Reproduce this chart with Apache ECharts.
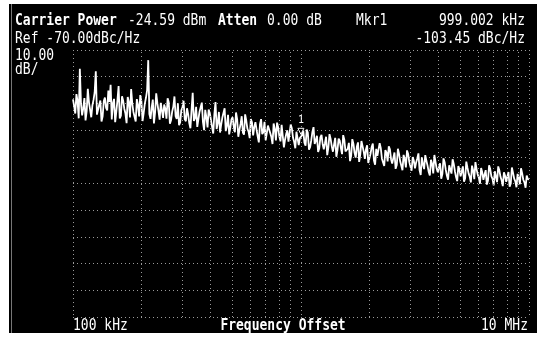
<!DOCTYPE html>
<html>
<head>
<meta charset="utf-8">
<script src="https://cdn.jsdelivr.net/npm/echarts@6/dist/echarts.min.js"></script>
<style>
  html, body { margin: 0; padding: 0; background: #fff; }
  #chart { width: 537px; height: 337px; }
</style>
</head>
<body>
<div id="chart"></div>
<script>
// sweep: log spaced offsets from 100 kHz to 10 MHz
const sweepStart = 1e5;
const sweepStop = 1e7;

// phase noise trace, dBc/Hz (sweep points 0..200)
const traceDb = [
  -88.5, -93.8, -89.2, -77.0, -94.5, -88.0, -92.9, -89.6, -95.2, -88.7,
  -78.0, -93.5, -88.9, -94.8, -87.8, -92.6, -89.4, -96.0, -88.3, -93.1,
  -83.5, -94.6, -89.0, -93.8, -87.6, -95.3, -90.1, -92.7, -88.4, -94.9,
  -89.2, -93.6, -87.9, -73.8, -95.8, -88.6, -93.4, -89.9, -96.1, -90.3,
  -90.4, -95.7, -89.6, -96.3, -91.2, -94.8, -90.0, -97.1, -91.5, -95.9,
  -91.8, -97.4, -92.5, -96.6, -91.3, -98.2, -93.0, -97.0, -92.4, -99.0,
  -93.6, -98.8, -94.1, -99.6, -93.2, -97.9, -95.0, -100.4, -94.3, -99.2,
  -95.2, -100.8, -96.0, -99.9, -94.8, -101.7, -96.5, -100.6, -95.9, -102.0,
  -97.0, -102.3, -97.8, -101.5, -96.9, -103.4, -98.6, -102.6, -97.5, -103.9,
  -99.0, -104.2, -98.5, -103.6, -100.1, -105.0, -99.4, -104.4, -100.6, -105.6,
  -103.45, -100.2, -105.8, -101.0, -106.4, -100.7, -105.2, -102.1, -106.9, -101.8,
  -107.2, -102.5, -106.6, -103.3, -108.1, -102.9, -107.5, -104.0, -109.0, -103.6,
  -108.7, -104.8, -109.6, -105.2, -110.3, -104.6, -109.1, -106.0, -110.8, -105.7,
  -110.6, -106.3, -111.4, -107.0, -110.2, -106.8, -112.1, -107.5, -111.7, -107.2,
  -112.5, -108.4, -113.1, -108.9, -112.4, -109.3, -114.0, -109.0, -113.6, -110.1,
  -114.3, -110.6, -115.0, -110.2, -114.6, -111.5, -115.6, -111.1, -116.2, -111.9,
  -115.8, -112.4, -116.5, -112.0, -117.1, -113.2, -116.3, -112.7, -117.6, -113.5,
  -117.3, -113.6, -118.0, -114.1, -117.5, -113.3, -118.4, -114.6, -117.8, -114.2,
  -118.6, -115.0, -119.0, -114.6, -118.3, -115.4, -119.5, -115.1, -118.8, -115.8,
  -119.4, -115.7, -120.0, -116.0, -119.2, -116.4, -120.3, -116.2, -119.6, -117.0, -118.5
];

// in-between sweep points (between point i and i+1)
const traceDbMid = [
  -91.0, -86.5, -95.6, -90.2, -91.8, -96.4, -84.5, -92.3, -90.8, -85.9,
  -94.2, -90.5, -96.8, -89.1, -91.7, -85.2, -83.0, -90.0, -97.0, -88.8,
  -95.6, -87.3, -92.0, -97.4, -89.5, -84.6, -93.2, -96.8, -90.6, -86.9,
  -96.6, -90.1, -85.1, -94.0, -91.6, -97.5, -86.2, -92.9, -89.8, -95.4,
  -92.0, -88.1, -97.6, -93.1, -87.4, -95.8, -98.2, -92.6, -89.0, -96.7,
  -94.0, -99.3, -86.0, -95.5, -98.8, -93.1, -89.7, -100.0, -95.1, -92.3,
  -96.2, -101.3, -89.5, -97.4, -100.9, -95.3, -91.8, -98.4, -101.6, -96.0,
  -98.6, -93.4, -102.5, -97.7, -100.9, -94.1, -99.5, -103.0, -97.1, -98.9,
  -99.8, -104.6, -95.9, -100.7, -103.8, -98.3, -101.1, -105.2, -99.6, -97.2,
  -102.4, -98.0, -106.5, -101.5, -104.3, -97.9, -102.9, -106.8, -101.3, -103.0,
  -101.9, -104.7, -99.8, -107.3, -103.8, -98.9, -104.0, -108.2, -102.7, -105.3,
  -104.9, -109.4, -101.5, -106.1, -105.4, -110.0, -103.2, -106.7, -101.9, -108.0,
  -107.0, -111.6, -103.4, -108.5, -106.1, -111.9, -104.1, -108.0, -107.2, -112.3,
  -108.9, -105.0, -113.0, -109.6, -104.9, -110.7, -113.4, -108.4, -106.1, -110.9,
  -110.4, -114.5, -107.0, -111.7, -115.0, -110.9, -107.6, -112.0, -115.2, -111.5,
  -112.1, -108.7, -116.8, -112.8, -109.4, -113.3, -117.0, -112.6, -109.3, -114.4,
  -114.0, -118.2, -110.6, -114.9, -118.6, -113.7, -110.9, -115.4, -119.1, -114.8,
  -115.5, -119.3, -111.8, -116.2, -119.6, -115.1, -112.0, -116.7, -120.1, -115.9,
  -116.6, -120.4, -113.2, -117.3, -120.7, -116.0, -113.6, -117.5, -121.0, -117.1,
  -117.4, -121.2, -114.0, -118.2, -121.4, -117.9, -114.3, -118.6, -121.6, -118.4
];

// graticule lines between the decades
const minorFreqs = [
  2e5, 3e5, 4e5, 5e5, 6e5, 7e5, 8e5, 9e5,
  2e6, 3e6, 4e6, 5e6, 6e6, 7e6, 8e6, 9e6
];

const refLevel = -70;
const dbPerDiv = 10;
const marker = { freq: 999002, db: -103.45, label: "1" };

const n = traceDb.length;
const sweepFreq = (k) => sweepStart * Math.pow(sweepStop / sweepStart, k / (n - 1));
const traceData = [];
traceDb.forEach((db, i) => {
  traceData.push([sweepFreq(i), db]);
  if (i < traceDbMid.length) traceData.push([sweepFreq(i + 0.5), traceDbMid[i]]);
});

const mono = "'DejaVu Sans Mono', monospace";
const gridColor = "#9a9a9a";
const gridType = [1, 3];

function label(text, x, y, opts) {
  return {
    type: "text",
    x: x,
    y: y,
    scaleY: 1.2,
    style: Object.assign({
      text: text,
      fill: "#fff",
      font: "13px " + mono,
      textVerticalAlign: "middle"
    }, opts || {})
  };
}

const chart = echarts.init(document.getElementById("chart"));
chart.setOption({
  backgroundColor: "#fff",
  animation: false,
  grid: { left: 73, top: 50, width: 456, height: 267 },
  xAxis: {
    type: "log",
    logBase: 10,
    min: sweepStart,
    max: sweepStop,
    axisLine: { show: false },
    axisTick: { show: false },
    axisLabel: { show: false },
    splitLine: { show: true, lineStyle: { color: gridColor, type: gridType, width: 1 } }
  },
  yAxis: {
    type: "value",
    min: refLevel - dbPerDiv * 10,
    max: refLevel,
    interval: dbPerDiv,
    axisLine: { show: false },
    axisTick: { show: false },
    axisLabel: { show: false },
    splitLine: { show: true, lineStyle: { color: gridColor, type: gridType, width: 1 } }
  },
  graphic: [
    { type: "rect", z: -10, shape: { x: 9, y: 4, width: 528, height: 329 }, style: { fill: "#000" } },
    { type: "line", z: -9, shape: { x1: 11.5, y1: 4, x2: 11.5, y2: 333 }, style: { stroke: "#777", lineWidth: 1 } },
    label("Carrier Power", 15, 21, { font: "bold 13px " + mono }),
    label("-24.59 dBm", 128, 21),
    label("Atten", 218, 21, { font: "bold 13px " + mono }),
    label("0.00 dB", 267, 21),
    label("Mkr1", 356, 21),
    label("999.002 kHz", 525, 21, { textAlign: "right" }),
    label("Ref -70.00dBc/Hz", 15, 39),
    label("-103.45 dBc/Hz", 525, 39, { textAlign: "right" }),
    label("10.00", 15, 56),
    label("dB/", 15, 70),
    label("100 kHz", 73, 326),
    label("Frequency Offset", 283, 326, { font: "bold 13px " + mono, textAlign: "center" }),
    label("10 MHz", 528, 326, { textAlign: "right" })
  ],
  series: [
    {
      type: "line",
      data: traceData,
      showSymbol: false,
      symbol: "none",
      lineStyle: { color: "#fff", width: 1.8 },
      markLine: {
        silent: true,
        symbol: "none",
        label: { show: false },
        lineStyle: { color: gridColor, type: gridType, width: 1 },
        data: minorFreqs.map((f) => ({ xAxis: f }))
      },
      markPoint: {
        symbol: "triangle",
        symbolSize: 6,
        symbolRotate: 180,
        itemStyle: { color: "#000", borderColor: "#fff", borderWidth: 1 },
        label: { show: true, position: "top", color: "#fff", fontSize: 10, fontFamily: mono, distance: 2 },
        data: [{ coord: [marker.freq, marker.db], value: marker.label, symbolOffset: [0, -8] }]
      }
    }
  ]
});
</script>
</body>
</html>
